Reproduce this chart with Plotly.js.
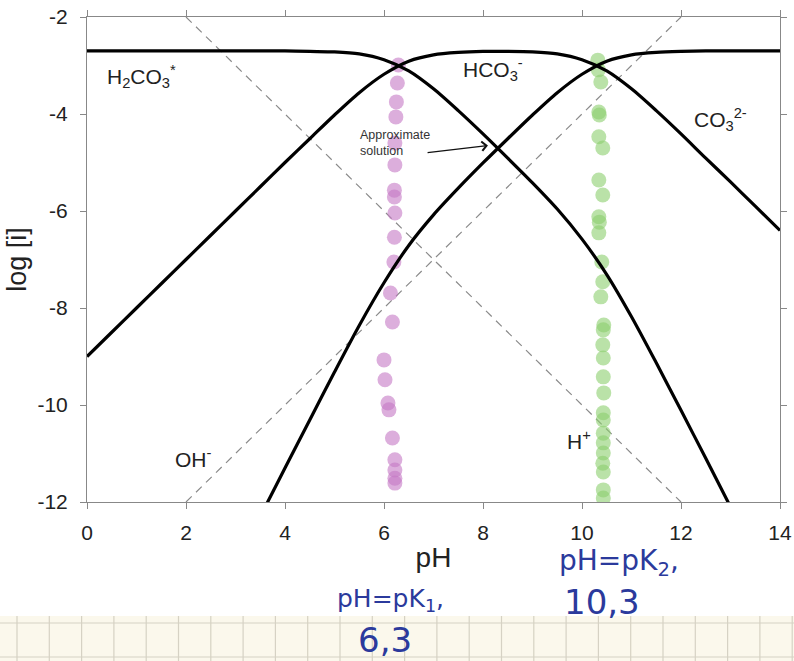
<!DOCTYPE html>
<html>
<head>
<meta charset="utf-8">
<script src="https://cdn.plot.ly/plotly-3.0.1.min.js"></script>
<style>html,body{margin:0;padding:0;background:#fff;}#chart{width:794px;height:661px;}</style>
</head>
<body>
<div id="chart"></div>
<script>
// Species curves (log concentration vs pH)
const phH2CO3 = [0,1,2,3,4,4.5,5,5.5,6,6.5,7,7.5,8,8.5,9,9.5,10,10.5,11,11.5,12,12.5,13];
const logH2CO3 = [-2.70,-2.70,-2.70,-2.70,-2.70,-2.71,-2.72,-2.76,-2.88,-3.11,-3.48,-3.93,-4.41,-4.91,-5.42,-5.96,-6.58,-7.31,-8.18,-9.13,-10.11,-11.10,-12.10];

const phHCO3 = [0,0.5,1,1.5,2,2.5,3,3.5,4,4.5,5,5.5,6,6.5,7,7.5,8,8.5,9,9.5,10,10.5,11,11.5,12,12.5,13,13.5,14];
const logHCO3 = [-9.00,-8.50,-8.00,-7.50,-7.00,-6.50,-6.00,-5.50,-5.00,-4.51,-4.02,-3.56,-3.18,-2.91,-2.78,-2.73,-2.71,-2.71,-2.72,-2.76,-2.88,-3.11,-3.48,-3.93,-4.41,-4.91,-5.40,-5.90,-6.40];

const phCO3 = [3.5,4,4.5,5,5.5,6,6.5,7,7.5,8,8.5,9,9.5,10,10.5,11,11.5,12,12.5,13,13.5,14];
const logCO3 = [-12.30,-11.30,-10.31,-9.32,-8.36,-7.48,-6.71,-6.08,-5.53,-5.01,-4.51,-4.02,-3.56,-3.18,-2.91,-2.78,-2.73,-2.71,-2.70,-2.70,-2.70,-2.70];

const phHplus = [2,12];
const logHplus = [-2,-12];
const phOHminus = [2,12];
const logOHminus = [-12,-2];

// Hand-drawn dots
const pinkX = [6.29,6.27,6.25,6.24,6.22,6.22,6.21,6.21,6.22,6.21,6.20,6.13,6.17,6.0,6.02,6.08,6.10,6.17,6.22,6.22,6.22,6.22];
const pinkY = [-2.99,-3.36,-3.75,-4.06,-4.60,-5.05,-5.57,-5.71,-6.04,-6.54,-7.05,-7.69,-8.29,-9.07,-9.48,-9.96,-10.10,-10.68,-11.13,-11.34,-11.51,-11.61];

const greenX = [10.32,10.33,10.38,10.34,10.35,10.34,10.42,10.34,10.42,10.34,10.35,10.34,10.40,10.42,10.38,10.44,10.43,10.42,10.43,10.43,10.44,10.43,10.43,10.43,10.43,10.43,10.42,10.43,10.43,10.43];
const greenY = [-2.89,-3.09,-3.34,-3.96,-4.02,-4.47,-4.70,-5.36,-5.67,-6.12,-6.23,-6.45,-7.05,-7.46,-7.77,-8.35,-8.45,-8.76,-9.03,-9.42,-9.75,-10.16,-10.31,-10.58,-10.78,-10.99,-11.20,-11.38,-11.75,-11.92];

const xTicks = [0,2,4,6,8,10,12,14];
const yTicks = [-2,-4,-6,-8,-10,-12];

const blackLine = {color:'#000', width:3.2, shape:'spline', smoothing:0.8};
const dashLine = {color:'#8a8a8a', width:1.2, dash:'8px,6px'};

const traces = [
  {x:phHplus, y:logHplus, mode:'lines', line:dashLine, hoverinfo:'skip'},
  {x:phOHminus, y:logOHminus, mode:'lines', line:dashLine, hoverinfo:'skip'},
  {x:pinkX, y:pinkY, mode:'markers', marker:{size:15, color:'rgba(196,120,196,0.6)', line:{width:0}}},
  {x:greenX, y:greenY, mode:'markers', marker:{size:15, color:'rgba(140,206,110,0.6)', line:{width:0}}},
  {x:phH2CO3, y:logH2CO3, mode:'lines', line:blackLine},
  {x:phHCO3, y:logHCO3, mode:'lines', line:blackLine},
  {x:phCO3, y:logCO3, mode:'lines', line:blackLine}
];

// grid paper decoration (paper coordinates)
const L = 87, R = 780, T = 17, B = 502, W = R - L, H = B - T;
const px = v => (v - L) / W;
const py = v => (B - v) / H;
const shapes = [
  {type:'rect', xref:'paper', yref:'paper', x0:px(0), x1:px(794), y0:py(616), y1:py(661), fillcolor:'#fbf8ec', line:{width:0}, layer:'below'}
];
for (let gx = 17; gx < 794; gx += 32.3) {
  shapes.push({type:'line', xref:'paper', yref:'paper', x0:px(gx), x1:px(gx), y0:py(616), y1:py(661), line:{color:'#d6d2c4', width:1.2}, layer:'below'});
}
[623, 657].forEach(gy => shapes.push({type:'line', xref:'paper', yref:'paper', x0:px(0), x1:px(794), y0:py(gy), y1:py(gy), line:{color:'#d6d2c4', width:1.2}, layer:'below'}));

const lblFont = {family:'Liberation Sans, Arial, sans-serif', size:21, color:'#222'};
const inkFont = {family:'DejaVu Sans, sans-serif', size:25, color:'#2b3a9c'};
const inkFont2 = {family:'DejaVu Sans, sans-serif', size:28, color:'#2b3a9c'};
const inkBig = {family:'DejaVu Sans, sans-serif', size:34, color:'#2b3a9c'};

const annotations = [
  {x:1.1, y:-3.22, text:'H<sub>2</sub>CO<sub>3</sub><sup>*</sup>', showarrow:false, font:lblFont},
  {x:8.2, y:-3.08, text:'HCO<sub>3</sub><sup>-</sup>', showarrow:false, font:lblFont},
  {x:12.8, y:-4.12, text:'CO<sub>3</sub><sup>2-</sup>', showarrow:false, font:lblFont},
  {x:2.15, y:-11.1, text:'OH<sup>-</sup>', showarrow:false, font:lblFont},
  {x:9.93, y:-10.72, text:'H<sup>+</sup>', showarrow:false, font:lblFont},
  {x:6.22, y:-4.6, text:'Approximate<br>solution', showarrow:false, align:'left', font:{family:'Liberation Sans, Arial, sans-serif', size:12.5, color:'#333'}},
  {x:8.1, y:-4.65, ax:6.85, ay:-4.8, axref:'x', ayref:'y', text:'', showarrow:true, arrowhead:4, arrowsize:1.4, arrowwidth:1.3, arrowcolor:'#111'},
  {xref:'paper', yref:'paper', x:px(390), y:py(600), xanchor:'center', yanchor:'middle', text:'pH=pK<sub>1</sub>,', showarrow:false, font:inkFont},
  {xref:'paper', yref:'paper', x:px(385), y:py(640), xanchor:'center', yanchor:'middle', text:'6,3', showarrow:false, font:inkBig},
  {xref:'paper', yref:'paper', x:px(619), y:py(562), xanchor:'center', yanchor:'middle', text:'pH=pK<sub>2</sub>,', showarrow:false, font:inkFont2},
  {xref:'paper', yref:'paper', x:px(602), y:py(602), xanchor:'center', yanchor:'middle', text:'10,3', showarrow:false, font:inkBig}
];

const axisCommon = {
  showgrid:false, zeroline:false, showline:true, linecolor:'#888', linewidth:1,
  mirror:'ticks', ticks:'outside', ticklen:6, tickcolor:'#888', tickwidth:1,
  tickfont:{family:'Liberation Sans, Arial, sans-serif', size:21, color:'#222'}
};

const layout = {
  width:794, height:661,
  margin:{l:L, r:794-R, t:T, b:661-B},
  paper_bgcolor:'#fff', plot_bgcolor:'#fff',
  showlegend:false,
  xaxis:Object.assign({}, axisCommon, {range:[0,14], tickvals:xTicks, ticktext:xTicks.map(String), ticklabelstandoff:6,
    title:{text:'pH', font:{family:'Liberation Sans, Arial, sans-serif', size:28, color:'#222'}, standoff:4}}),
  yaxis:Object.assign({}, axisCommon, {range:[-12,-2], tickvals:yTicks, ticktext:yTicks.map(String), ticklabelstandoff:8,
    title:{text:'log [i]', font:{family:'Liberation Sans, Arial, sans-serif', size:27, color:'#222'}, standoff:2}}),
  shapes:shapes,
  annotations:annotations
};

Plotly.newPlot('chart', traces, layout, {staticPlot:true, displayModeBar:false});
</script>
</body>
</html>
